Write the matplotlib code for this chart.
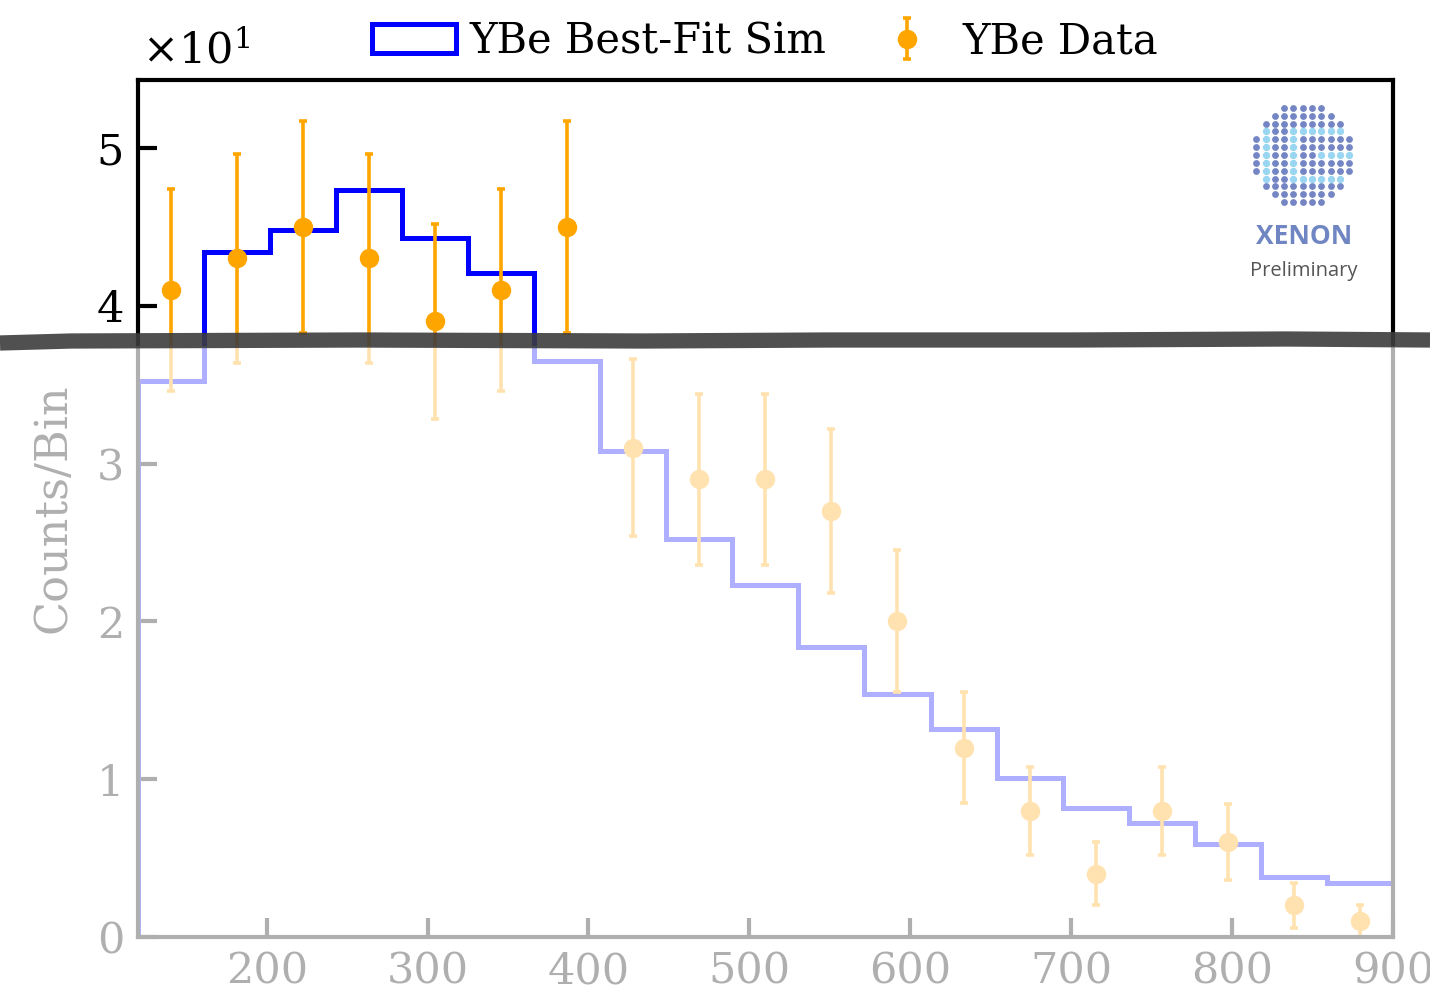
import matplotlib
matplotlib.use('Agg')
import matplotlib.pyplot as plt
import numpy as np
from matplotlib.lines import Line2D
from matplotlib.patches import Rectangle

# binning of the S1/energy axis
bin_edges = np.linspace(120, 900, 20)
bin_centers = 0.5 * (bin_edges[1:] + bin_edges[:-1])

# best-fit simulation (counts per bin)
sim_counts = [35.2, 43.4, 44.8, 47.3, 44.3, 42.1, 36.5, 30.8, 25.2, 22.3,
              18.4, 15.4, 13.2, 10.1, 8.2, 7.2, 5.9, 3.8, 3.4]

# measured data with errors
data_counts = [41, 43, 45, 43, 39, 41, 45, 31, 29, 29, 27, 20, 12, 8, 4, 8, 6, 2, 1]
data_err = [6.4, 6.6, 6.7, 6.6, 6.2, 6.4, 6.7, 5.6, 5.4, 5.4, 5.2, 4.5, 3.5, 2.8,
            2.0, 2.8, 2.4, 1.4, 1.0]

lbl_fnt = 31
lgd_fnt = 30

plt.rcParams['font.family'] = 'DejaVu Serif'
plt.rcParams['mathtext.fontset'] = 'dejavuserif'

fig = plt.figure(figsize=(14.3, 10), dpi=100)
ax = fig.add_axes([0.0965, 0.063, 0.8775, 0.857])

ax.hist(bin_centers, bins=bin_edges, weights=sim_counts, histtype='step',
        color='blue', linewidth=3.6, label='YBe Best-Fit Sim')
ax.errorbar(bin_centers, data_counts, yerr=data_err, fmt='o', color='orange',
            markersize=13, elinewidth=2.6, capsize=3, capthick=2.6,
            label='YBe Data')

ax.set_xlim(120, 900)
ax.set_ylim(0, 54.3)
ax.set_xticks([200, 300, 400, 500, 600, 700, 800, 900])
ax.set_yticks([0, 10, 20, 30, 40, 50])
ax.set_yticklabels(['0', '1', '2', '3', '4', '5'])
ax.tick_params(direction='in', length=14, width=3, labelsize=lbl_fnt, pad=10)
for sp in ax.spines.values():
    sp.set_linewidth(3)
ax.set_ylabel('Counts/Bin', fontsize=lbl_fnt + 1, labelpad=16)
# scale factor of the y axis
fig.text(0.099, 0.937, r'$\times10^{1}$', fontsize=lbl_fnt, ha='left', va='baseline')

ax.legend(loc='lower center', bbox_to_anchor=(0.5, 0.977), ncol=2,
          frameon=False, fontsize=lgd_fnt, handlelength=2.0,
          handletextpad=0.33, columnspacing=0.95)

# XENON logo, drawn as a dot disc with the wordmark below
lax = fig.add_axes([0.872, 0.79, 0.078, 0.11])
lax.set_xlim(-6.0, 6.0)
lax.set_ylim(-7.0, 7.0)
lax.axis('off')
gx, gy = np.meshgrid(np.arange(-5, 6), np.arange(-6, 7))
gx = gx.ravel()
gy = gy.ravel()
keep = (gx / 5.6) ** 2 + (gy / 6.6) ** 2 <= 1.0
gx = gx[keep]
gy = gy[keep]
light = ((gy == 3) & (gx >= 0)) | ((gy == -3) & (gx >= 0)) | ((gy == 0) & (gx >= 2)) \
    | ((gx == -4) & (np.abs(gy) <= 3)) | ((gx == -1) & (np.abs(gy) <= 3))
lax.scatter(gx[~light], gy[~light], s=15, color='#7585c4')
lax.scatter(gx[light], gy[light], s=18, color='#9ad6f2')
fig.text(0.912, 0.764, 'XENON', fontsize=19, fontweight='bold', color='#6f86c2',
         family='Open Sans', ha='center', va='center')
fig.text(0.912, 0.729, 'Preliminary', fontsize=14.5, color='#555555',
         family='Open Sans', ha='center', va='center')

# fade everything below the pen stroke
fig.add_artist(Rectangle((0, 0), 1, 0.654, transform=fig.transFigure,
                         facecolor='white', edgecolor='none', alpha=0.69, zorder=5))
# pen stroke across the figure
fig.add_artist(Line2D([0, 0.05, 0.25, 0.45, 0.58, 0.75, 0.9, 1.0],
                      [0.657, 0.659, 0.660, 0.659, 0.660, 0.660, 0.661, 0.660],
                      transform=fig.transFigure, color='#3d3d3d', linewidth=11,
                      alpha=0.9, solid_capstyle='butt', zorder=6))

fig.savefig('out.png', dpi=100)
plt.close(fig)
